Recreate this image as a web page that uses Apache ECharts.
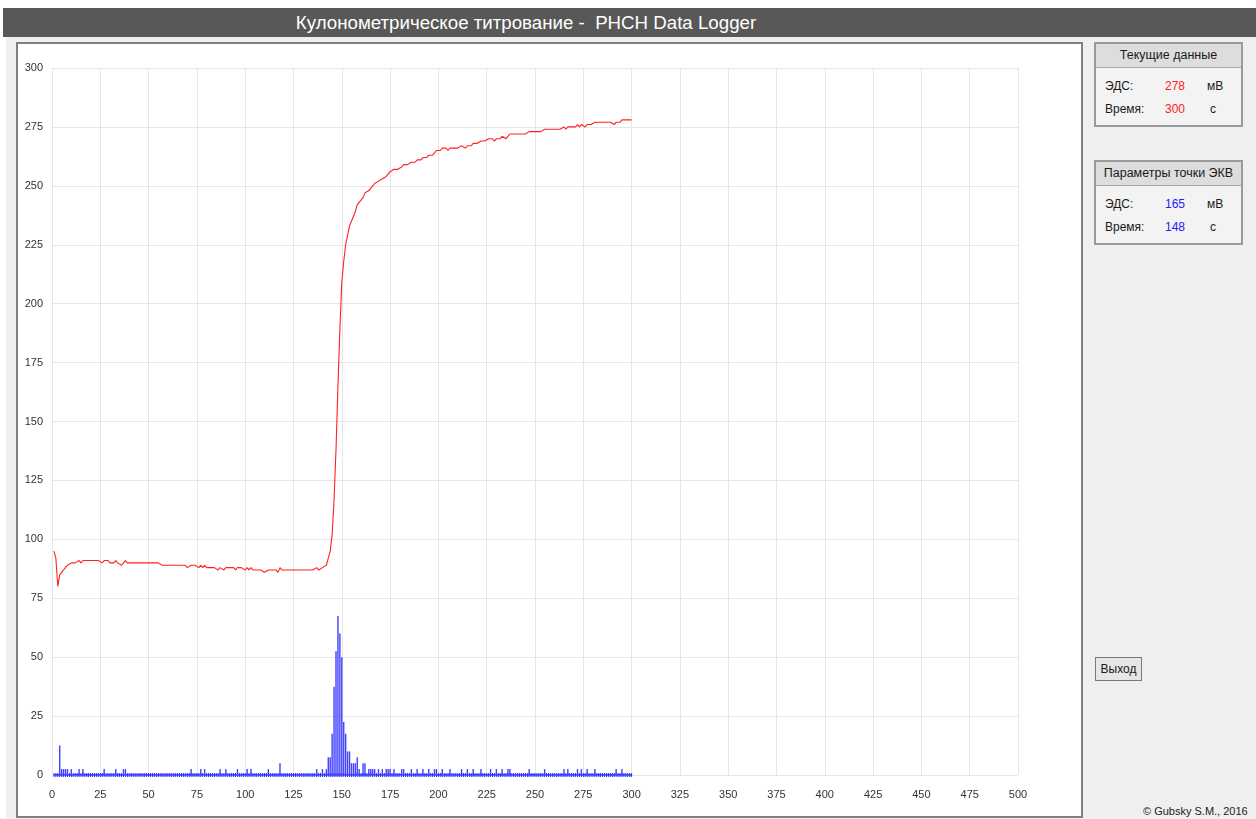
<!DOCTYPE html>
<html>
<head>
<meta charset="utf-8">
<title>PHCH Data Logger</title>
<script src="https://cdn.jsdelivr.net/npm/echarts@6/dist/echarts.min.js"></script>
<style>
  html, body { margin: 0; padding: 0; background: #ffffff; }
  body { width: 1256px; height: 819px; position: relative; overflow: hidden;
         font-family: "Liberation Sans", Arial, sans-serif; color: #1a1a1a; }
  #titlebar { position: absolute; left: 3px; top: 8px; width: 1253px; height: 29px;
              background: #585858; color: #ffffff; font-size: 18.7px; line-height: 29px;
              white-space: pre; }
  #titlebar span { position: absolute; left: 523px; transform: translateX(-50%); }
  #desk { position: absolute; left: 6px; top: 37px; right: 0; bottom: 0; background: #efefef; }
  #plotpanel { position: absolute; left: 16px; top: 42px; width: 1063px; height: 772px;
               background: #ffffff; border: 2px solid #808080; }
  #chart { position: absolute; left: 0; top: 0; width: 1256px; height: 819px; }
  .box { position: absolute; left: 1094px; width: 145px; border: 2px solid #9a9a9a;
         background: #f3f3f3; font-size: 12px; }
  .box .head { height: 23px; line-height: 23px; background: #dddddd;
               border-bottom: 1px solid #a8a8a8; text-align: center; font-size: 12.5px; }
  .box .row { position: relative; height: 23px; line-height: 23px; }
  .box .lbl { position: absolute; left: 9px; }
  .box .val { position: absolute; left: 67px; width: 24px; text-align: center; }
  .box .unit { position: absolute; left: 111px; }
  .box .unit.s { left: 114px; }
  .red { color: #ff2020; }
  .blue { color: #2020ff; }
  #exit { position: absolute; left: 1095px; top: 657px; width: 47px; height: 24px;
          border: 1px solid #7a7a7a; background: #e6e6e6; font-size: 12px;
          line-height: 22px; text-align: center; box-sizing: border-box; }
  #copy { position: absolute; left: 1143px; top: 805px; font-size: 11px; color: #222; }
</style>
</head>
<body>
<div id="titlebar"><span>Кулонометрическое титрование -  PHCH Data Logger</span></div>
<div id="desk"></div>
<div id="plotpanel"></div>

<div class="box" style="top:42px;">
  <div class="head">Текущие данные</div>
  <div style="height:7px"></div>
  <div class="row"><span class="lbl">ЭДС:</span><span class="val red" id="curE"></span><span class="unit">мВ</span></div>
  <div class="row"><span class="lbl">Время:</span><span class="val red" id="curT"></span><span class="unit s">с</span></div>
  <div style="height:4px"></div>
</div>

<div class="box" style="top:160px;">
  <div class="head">Параметры точки ЭКВ</div>
  <div style="height:7px"></div>
  <div class="row"><span class="lbl">ЭДС:</span><span class="val blue" id="eqE"></span><span class="unit">мВ</span></div>
  <div class="row"><span class="lbl">Время:</span><span class="val blue" id="eqT"></span><span class="unit s">с</span></div>
  <div style="height:4px"></div>
</div>

<div id="exit">Выход</div>
<div id="copy">© Gubsky S.M., 2016</div>

<div id="chart"></div>

<script>
// Potential (mV), one reading per second, t = 1 ... 300 s
const emf = [
  95, 92, 80, 85, 86, 87, 88, 89, 89, 90,
  90, 90, 90, 91, 90, 91, 91, 91, 91, 91,
  91, 91, 91, 91, 91, 90, 91, 91, 91, 90,
  90, 90, 91, 90, 90, 89, 90, 91, 90, 90,
  90, 90, 90, 90, 90, 90, 90, 90, 90, 90,
  90, 90, 90, 90, 90, 90, 89, 89, 89, 89,
  89, 89, 89, 89, 89, 89, 89, 89, 89, 88,
  88, 89, 89, 89, 89, 88, 89, 88, 89, 88,
  88, 88, 88, 88, 88, 87, 88, 88, 87, 88,
  88, 88, 88, 88, 87, 88, 88, 88, 88, 87,
  88, 87, 88, 87, 87, 87, 87, 87, 87, 86,
  86, 87, 87, 87, 87, 87, 86, 88, 87, 87,
  87, 87, 87, 87, 87, 87, 87, 87, 87, 87,
  87, 87, 87, 87, 87, 87, 88, 87, 87, 88,
  88, 89, 92, 95, 102, 117, 138, 165, 189, 209,
  218, 225, 229, 233, 235, 237, 239, 242, 243, 243,
  245, 247, 247, 248, 249, 250, 251, 251, 252, 252,
  253, 253, 254, 255, 256, 256, 257, 257, 257, 257,
  258, 259, 259, 259, 259, 260, 260, 260, 261, 261,
  261, 262, 262, 262, 263, 263, 263, 264, 265, 265,
  265, 266, 266, 266, 265, 266, 266, 266, 266, 266,
  266, 267, 267, 266, 267, 267, 267, 268, 268, 268,
  268, 269, 269, 269, 269, 270, 270, 270, 269, 270,
  270, 270, 271, 271, 270, 271, 272, 272, 272, 272,
  272, 272, 272, 272, 272, 272, 273, 273, 273, 273,
  273, 273, 273, 273, 274, 274, 274, 274, 274, 274,
  274, 274, 274, 274, 275, 274, 275, 275, 275, 275,
  275, 276, 275, 276, 276, 275, 276, 276, 276, 276,
  277, 277, 277, 277, 277, 277, 277, 277, 277, 277,
  276, 277, 277, 277, 278, 278, 278, 278, 278, 278
];

// Rate of potential rise per second; seconds not listed are 0
const riseBars = [
  [4, 12.5], [5, 2.5], [6, 2.5], [7, 2.5], [8, 2.5], [10, 2.5], [14, 2.5], [16, 2.5],
  [27, 2.5], [33, 2.5], [37, 2.5], [38, 2.5], [72, 2.5], [77, 2.5], [79, 2.5],
  [87, 2.5], [90, 2.5], [96, 2.5], [101, 2.5], [103, 2.5], [112, 2.5], [118, 5],
  [137, 2.5], [140, 2.5], [142, 2.5], [143, 7.5], [144, 7.5], [145, 17.5],
  [146, 37.5], [147, 52.5], [148, 67.5], [149, 60], [150, 50], [151, 22.5],
  [152, 17.5], [153, 10], [154, 10], [155, 5], [156, 5], [157, 5], [158, 7.5],
  [159, 2.5], [161, 5], [162, 5], [164, 2.5], [165, 2.5], [166, 2.5], [167, 2.5],
  [169, 2.5], [171, 2.5], [173, 2.5], [174, 2.5], [175, 2.5], [177, 2.5],
  [181, 2.5], [182, 2.5], [186, 2.5], [189, 2.5], [192, 2.5], [195, 2.5],
  [198, 2.5], [199, 2.5], [202, 2.5], [206, 2.5], [212, 2.5], [215, 2.5],
  [218, 2.5], [222, 2.5], [227, 2.5], [230, 2.5], [233, 2.5], [236, 2.5],
  [237, 2.5], [247, 2.5], [255, 2.5], [265, 2.5], [267, 2.5], [272, 2.5],
  [274, 2.5], [277, 2.5], [281, 2.5], [292, 2.5], [295, 2.5]
];

// Axis ranges and tick step
const xRange = [0, 500];
const yRange = [0, 300];
const tickStep = 25;

// Readouts shown in the side panels
const current = { emf: 278, time: 300 };
const equivalence = { emf: 165, time: 148 };

document.getElementById('curE').textContent = current.emf;
document.getElementById('curT').textContent = current.time;
document.getElementById('eqE').textContent = equivalence.emf;
document.getElementById('eqT').textContent = equivalence.time;

// Build series from the readings
const seconds = emf.map((_, i) => i + 1);
const emfPoints = seconds.map((t, i) => [t, emf[i]]);
const riseMap = new Map(riseBars);
const barPoints = seconds.map(t => [t, riseMap.has(t) ? riseMap.get(t) : 0]);
const zeroPoints = seconds.map(t => [t, 0]);

const chart = echarts.init(document.getElementById('chart'), null, { renderer: 'canvas' });

const axisLabelStyle = { color: '#333333', fontSize: 11, fontFamily: 'Liberation Sans' };
const gridLineStyle = { color: '#e6e6e6', width: 1 };

chart.setOption({
  backgroundColor: 'transparent',
  animation: false,
  grid: { left: 52, right: 238, top: 68, bottom: 44, outerBoundsMode: 'none' },
  xAxis: {
    type: 'value', min: xRange[0], max: xRange[1], interval: tickStep,
    axisLine: { show: false }, axisTick: { show: false },
    splitLine: { show: true, lineStyle: gridLineStyle },
    axisLabel: Object.assign({ margin: 14 }, axisLabelStyle)
  },
  yAxis: {
    type: 'value', min: yRange[0], max: yRange[1], interval: tickStep,
    axisLine: { show: false }, axisTick: { show: false },
    splitLine: { show: true, lineStyle: gridLineStyle },
    axisLabel: Object.assign({ margin: 9 }, axisLabelStyle)
  },
  series: [
    {
      name: 'zero',
      type: 'line',
      data: zeroPoints,
      symbol: 'rect',
      symbolSize: [1, 4],
      showSymbol: true,
      itemStyle: { color: '#2a2aff' },
      lineStyle: { color: '#2a2aff', width: 1.5 },
      silent: true,
      z: 2
    },
    {
      name: 'dE/dt',
      type: 'bar',
      data: barPoints,
      barWidth: 1.4,
      itemStyle: { color: '#4040ff' },
      z: 3
    },
    {
      name: 'E',
      type: 'line',
      data: emfPoints,
      symbol: 'none',
      lineStyle: { color: '#ff2020', width: 1.1 },
      z: 4
    }
  ]
});
</script>
</body>
</html>
